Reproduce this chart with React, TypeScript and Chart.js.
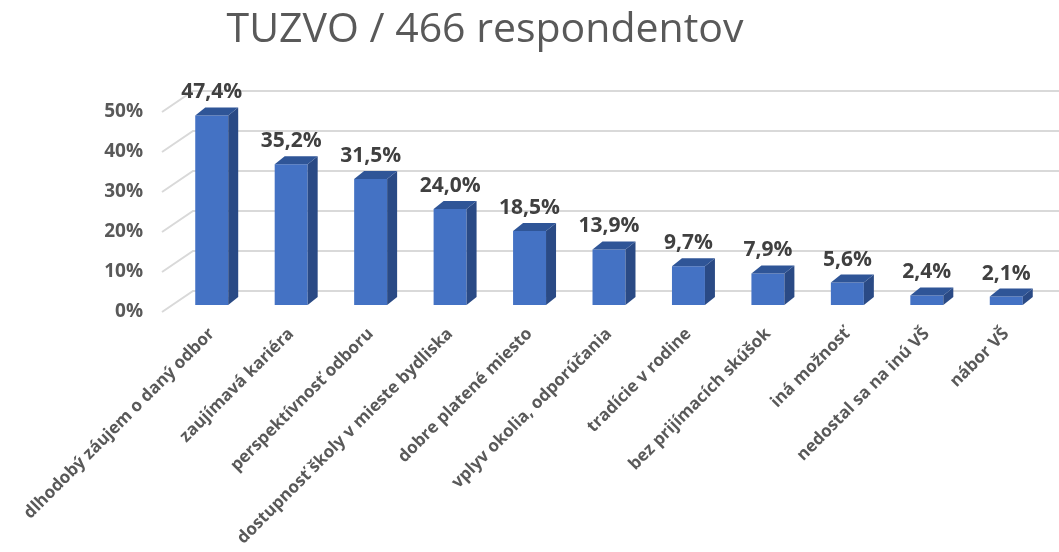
import React, { useEffect, useRef } from "react";
import { Chart, registerables } from "chart.js";

Chart.register(...registerables);

const TITLE = "TUZVO / 466 respondentov";

const categories = [
  "dlhodobý záujem o daný odbor",
  "zaujímavá kariéra",
  "perspektívnosť odboru",
  "dostupnosť školy v mieste bydliska",
  "dobre platené miesto",
  "vplyv okolia, odporúčania",
  "tradície v rodine",
  "bez prijímacích skúšok",
  "iná možnosť",
  "nedostal sa na inú VŠ",
  "nábor VŠ",
];

const values = [47.4, 35.2, 31.5, 24.0, 18.5, 13.9, 9.7, 7.9, 5.6, 2.4, 2.1];

const yTicks = [0, 10, 20, 30, 40, 50];

const FRONT = "#4472C4";
const SIDE = "#2A4A85";
const TOP = "#2F5597";
const GRID = "#D9D9D9";
const TEXT = "#595959";
const LABEL = "#404040";

const BAR_DX = 10;
const BAR_DY = 8;
const WALL_DX = 21;
const WALL_DY = 14;
const LABEL_PLANE_DY = 7;

const threeD = {
  id: "threeD",
  beforeDatasetsDraw(chart: any) {
    const { ctx, chartArea, scales } = chart;
    const y = scales.y;
    ctx.save();
    ctx.strokeStyle = GRID;
    ctx.lineWidth = 2;
    yTicks.forEach((v) => {
      const yb = y.getPixelForValue(v) - WALL_DY;
      ctx.beginPath();
      ctx.moveTo(chartArea.left - 10, yb + WALL_DY + LABEL_PLANE_DY);
      ctx.lineTo(chartArea.left + WALL_DX, yb);
      ctx.lineTo(chart.width, yb);
      ctx.stroke();
    });
    ctx.restore();
  },
  afterDatasetsDraw(chart: any) {
    const { ctx } = chart;
    const meta = chart.getDatasetMeta(0);
    ctx.save();
    meta.data.forEach((bar: any, i: number) => {
      const { x, y, base, width } = bar.getProps(["x", "y", "base", "width"], true);
      const l = x - width / 2;
      const r = x + width / 2;
      ctx.fillStyle = SIDE;
      ctx.beginPath();
      ctx.moveTo(r, y);
      ctx.lineTo(r + BAR_DX, y - BAR_DY);
      ctx.lineTo(r + BAR_DX, base - BAR_DY);
      ctx.lineTo(r, base);
      ctx.closePath();
      ctx.fill();
      ctx.fillStyle = TOP;
      ctx.beginPath();
      ctx.moveTo(l, y);
      ctx.lineTo(l + BAR_DX, y - BAR_DY);
      ctx.lineTo(r + BAR_DX, y - BAR_DY);
      ctx.lineTo(r, y);
      ctx.closePath();
      ctx.fill();
      ctx.fillStyle = LABEL;
      ctx.font = "bold 21px 'Open Sans'";
      ctx.textAlign = "center";
      ctx.textBaseline = "alphabetic";
      ctx.fillText(values[i].toFixed(1).replace(".", ",") + "%", x, y - 17);
    });
    ctx.fillStyle = TEXT;
    ctx.font = "41px 'Open Sans'";
    ctx.textAlign = "center";
    ctx.fillText(TITLE, 485, 42);
    ctx.restore();
  },
};

export default function App() {
  const ref = useRef<HTMLCanvasElement>(null);
  useEffect(() => {
    document.body.style.margin = "0";
    const chart = new Chart(ref.current!, {
      type: "bar",
      data: {
        labels: categories,
        datasets: [
          {
            data: values,
            backgroundColor: FRONT,
            barPercentage: 0.83,
            categoryPercentage: 0.5,
          },
        ],
      },
      options: {
        animation: false,
        responsive: true,
        maintainAspectRatio: false,
        layout: { padding: { top: 105, right: 13, bottom: 0, left: 0 } },
        plugins: {
          legend: { display: false },
          title: { display: false },
          tooltip: { enabled: false },
        },
        scales: {
          y: {
            min: 0,
            max: 50,
            afterBuildTicks: (s: any) => {
              s.ticks = yTicks.map((v) => ({ value: v }));
            },
            afterFit: (s: any) => {
              s.width = 172;
            },
            grid: { display: false, drawTicks: false },
            border: { display: false },
            ticks: {
              callback: (v: any) => v + "%",
              color: TEXT,
              font: { family: "'Open Sans'", size: 19, weight: "bold" },
              padding: 29,
              labelOffset: LABEL_PLANE_DY,
            },
          },
          x: {
            afterFit: (s: any) => {
              s.height = 247;
            },
            grid: { display: false, drawTicks: false },
            border: { display: false },
            ticks: {
              autoSkip: false,
              maxRotation: 45,
              minRotation: 45,
              color: TEXT,
              font: { family: "'Open Sans'", size: 17, weight: "bold" },
              padding: 19,
            },
          },
        },
      },
      plugins: [threeD],
    });
    return () => chart.destroy();
  }, []);
  return (
    <div style={{ width: 1059, height: 552, position: "relative" }}>
      <canvas ref={ref} />
    </div>
  );
}
